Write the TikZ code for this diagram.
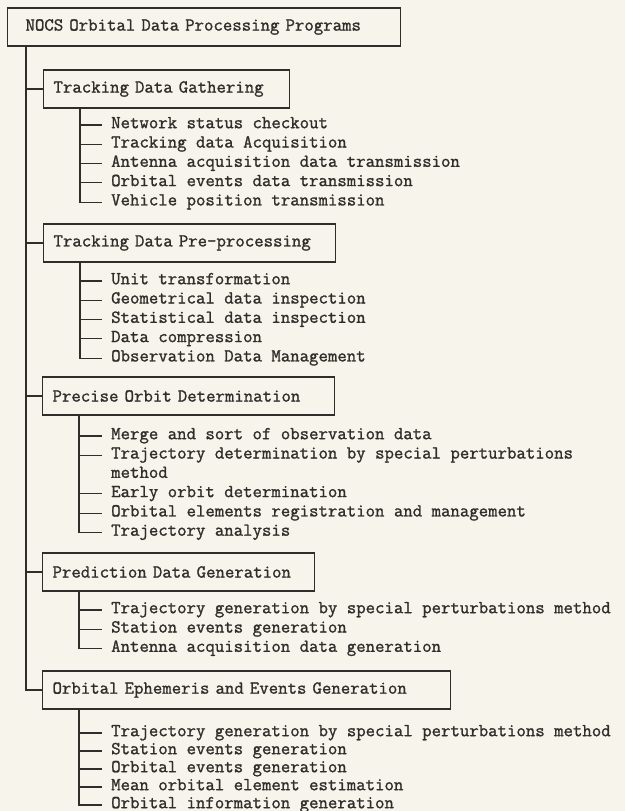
\documentclass[tikz,border=0pt]{standalone}
\usepackage{fontspec}
\setmonofont{Latin Modern Mono}[FakeBold=1.2]
\usepackage{xcolor}
\usetikzlibrary{positioning,calc}
\definecolor{paper}{RGB}{247,244,235}
\definecolor{ink}{RGB}{48,45,42}
\tikzset{
  progbox/.style={draw=ink, line width=1.1pt, anchor=west, minimum height=38pt,
                  inner xsep=10pt, inner ysep=0pt, align=left},
  task/.style={anchor=west, inner sep=0pt, text height=1.5ex, text depth=0pt},
  tree/.style={draw=ink, line width=1.1pt},
}

\begin{document}
\begin{tikzpicture}[x=1pt, y=-1pt, text=ink,
    font=\ttfamily\fontsize{18.3}{22}\selectfont]
    \fill[paper] (0,0) rectangle (625,811);
    \useasboundingbox (0,0) rectangle (625,811);

    % --- root box and the five program groups ---
    \node[progbox, inner xsep=18pt, text width=357pt] (root) at (7,27)
      {NOCS Orbital Data Processing Programs};
    \node[progbox, text width=226pt] (tdg)  at (43,89)  {Tracking Data Gathering};
    \node[progbox, text width=272pt] (tdp)  at (43,243) {Tracking Data Pre-processing};
    \node[progbox, text width=272pt] (pod)  at (42,396) {Precise Orbit Determination};
    \node[progbox, text width=252pt] (pdg)  at (42,572) {Prediction Data Generation};
    \node[progbox, text width=388pt] (oeeg) at (42,690) {Orbital Ephemeris and Events Generation};

    % main trunk down the left side
    \path (root.south west) ++(19,0) coordinate (trunk);
    \draw[tree] (trunk) -- (trunk |- oeeg.west) -- (oeeg.west);
    \foreach \g in {tdg,tdp,pod,pdg}
      \draw[tree] (trunk |- \g.west) -- (\g.west);

    % --- task lists ---
    \foreach \txt/\y [count=\i] in {Network status checkout/125,
        Tracking data Acquisition/144.3, Antenna acquisition data transmission/163.6,
        Orbital events data transmission/182.9, Vehicle position transmission/202.2}
      \node[task] (tdg-\i) at (111,\y) {\txt};
    \foreach \txt/\y [count=\i] in {Unit transformation/281,
        Geometrical data inspection/300.3, Statistical data inspection/319.6,
        Data compression/338.9, Observation Data Management/358.2}
      \node[task] (tdp-\i) at (111,\y) {\txt};
    \foreach \txt/\y [count=\i] in {Merge and sort of observation data/436,
        Trajectory determination by special perturbations/455.3,
        Early orbit determination/493.9,
        Orbital elements registration and management/513.2,
        Trajectory analysis/532.5}
      \node[task] (pod-\i) at (111,\y) {\txt};
    \node[task] (pod-2b) at ([yshift=-19.3pt]pod-2.west) {method};
    \foreach \txt/\y [count=\i] in {Trajectory generation by special perturbations method/610,
        Station events generation/629.3, Antenna acquisition data generation/648.6}
      \node[task] (pdg-\i) at (111,\y) {\txt};
    \foreach \txt/\y [count=\i] in {Trajectory generation by special perturbations method/733,
        Station events generation/751, Orbital events generation/769,
        Mean orbital element estimation/787, Orbital information generation/805}
      \node[task] (oeeg-\i) at (111,\y) {\txt};

    % spines and ticks of each list
    \foreach \g/\n in {tdg/5,tdp/5,pod/5,pdg/3,oeeg/5}{
      \path (\g.south west) ++(37,0) coordinate (\g-spine);
      \draw[tree] (\g-spine) -- (\g-spine |- \g-\n.west) -- ([xshift=-9pt]\g-\n.west);
      \foreach \i in {1,...,\n}
        \draw[tree] (\g-spine |- \g-\i.west) -- ([xshift=-9pt]\g-\i.west);
    }
  \end{tikzpicture}
\end{document}
